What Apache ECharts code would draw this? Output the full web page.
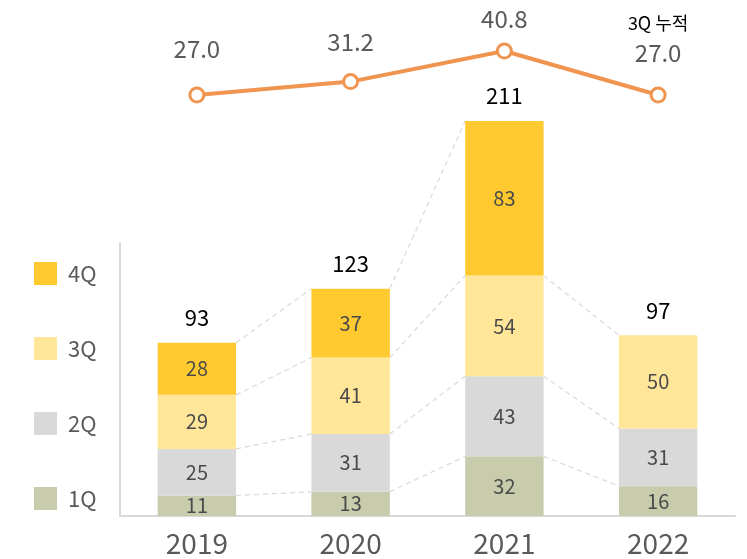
<!DOCTYPE html>
<html>
<head>
<meta charset="utf-8">
<script src="https://cdn.jsdelivr.net/npm/echarts@6/dist/echarts.min.js"></script>
<style>
  html, body { margin: 0; padding: 0; background: #fff; }
  #chart { width: 747px; height: 559px; }
</style>
</head>
<body>
<div id="chart"></div>
<script>
// 연도별 분기 데이터
const years = ['2019', '2020', '2021', '2022'];
const q1 = [11, 13, 32, 16];
const q2 = [25, 31, 43, 31];
const q3 = [29, 41, 54, 50];
const q4 = [28, 37, 83, null];
const totals = [93, 123, 211, 97];
// 상단 꺾은선 값
const ratio = [27.0, 31.2, 40.8, 27.0];

const quarters = [
  { name: '1Q', data: q1, color: '#C8CBAC' },
  { name: '2Q', data: q2, color: '#D9D9D9' },
  { name: '3Q', data: q3, color: '#FFE699' },
  { name: '4Q', data: q4, color: '#FFCA30' }
];

const chart = echarts.init(document.getElementById('chart'));
const font = '"Noto Sans CJK KR", "Noto Sans", sans-serif';

// 점선 연결선: 각 분기 누적 높이를 인접 막대끼리 이어줌
const connectors = [];
for (let i = 0; i < years.length - 1; i++) {
  let a = 0, b = 0;
  quarters.forEach(q => {
    const va = q.data[i], vb = q.data[i + 1];
    a += va || 0;
    b += vb || 0;
    if (va && vb) connectors.push([i, a, b]);
  });
}

// 꺾은선 라벨 간격 (원본처럼 점마다 조금씩 다름)
const ratioLabelGap = [26, 19, 12, 22];

const barSeries = quarters.map(q => ({
  name: q.name,
  type: 'bar',
  stack: 'total',
  barWidth: '51%',
  clip: false,
  xAxisIndex: 0,
  yAxisIndex: 0,
  itemStyle: { color: q.color },
  label: {
    show: true,
    position: 'inside',
    color: '#4a4a4a',
    fontSize: 20,
    fontFamily: font,
    formatter: p => (p.value == null ? '' : p.value)
  },
  data: q.data
}));

const option = {
  animation: false,
  legend: {
    data: ['4Q', '3Q', '2Q', '1Q'],
    orient: 'vertical',
    left: 29,
    top: 257,
    icon: 'rect',
    itemWidth: 23,
    itemHeight: 23,
    itemGap: 52,
    selectedMode: false,
    textStyle: { color: '#595959', fontSize: 22, fontFamily: font, padding: [0, 0, 0, 6] }
  },
  grid: [
    { left: 120, right: 12, top: 243, bottom: 43 },
    { left: 120, right: 12, top: 51, height: 44 }
  ],
  xAxis: [
    {
      type: 'category',
      gridIndex: 0,
      data: years,
      axisTick: { show: false },
      axisLine: { lineStyle: { color: '#D9D9D9', width: 2 } },
      axisLabel: { color: '#595959', fontSize: 28, fontFamily: font, margin: 13 }
    },
    { type: 'category', gridIndex: 1, data: years, show: false }
  ],
  yAxis: [
    {
      type: 'value',
      gridIndex: 0,
      min: 0,
      max: 146.5,
      splitLine: { show: false },
      axisLabel: { show: false },
      axisTick: { show: false },
      axisLine: { show: true, lineStyle: { color: '#D9D9D9', width: 2 } }
    },
    { type: 'value', gridIndex: 1, min: 27, max: 40.8, show: false }
  ],
  series: [
    ...barSeries,
    {
      name: 'total',
      type: 'bar',
      stack: 'total',
      clip: false,
      barWidth: '51%',
      itemStyle: { color: 'transparent' },
      label: {
        show: true,
        position: 'top',
        distance: 14,
        color: '#000',
        fontSize: 22,
        fontFamily: font,
        formatter: p => totals[p.dataIndex]
      },
      data: totals.map(() => 0)
    },
    {
      type: 'custom',
      xAxisIndex: 0,
      yAxisIndex: 0,
      clip: false,
      z: 1,
      renderItem: (params, api) => {
        const i = api.value(0);
        const p1 = api.coord([i, api.value(1)]);
        const p2 = api.coord([i + 1, api.value(2)]);
        const half = api.size([1, 0])[0] * 0.255;
        return {
          type: 'line',
          shape: { x1: p1[0] + half, y1: p1[1], x2: p2[0] - half, y2: p2[1] },
          style: { stroke: '#D9D9D9', lineWidth: 1.2, lineDash: [5, 4] }
        };
      },
      data: connectors
    },
    {
      name: 'ratio',
      type: 'line',
      xAxisIndex: 1,
      yAxisIndex: 1,
      clip: false,
      symbol: 'circle',
      symbolSize: 14,
      lineStyle: { color: '#F0954F', width: 4 },
      itemStyle: { color: '#fff', borderColor: '#F0954F', borderWidth: 3 },
      label: {
        show: true,
        position: 'top',
        color: '#595959',
        fontSize: 24,
        fontFamily: font,
        formatter: p => p.dataIndex === ratio.length - 1
          ? '{s|3Q 누적}\n{v|' + p.value.toFixed(1) + '}'
          : p.value.toFixed(1),
        rich: {
          s: { color: '#000', fontSize: 18, fontFamily: font, lineHeight: 34 },
          v: { color: '#595959', fontSize: 24, fontFamily: font }
        }
      },
      data: ratio.map((v, i) => ({ value: v, label: { distance: ratioLabelGap[i] } }))
    }
  ]
};

chart.setOption(option);
</script>
</body>
</html>
